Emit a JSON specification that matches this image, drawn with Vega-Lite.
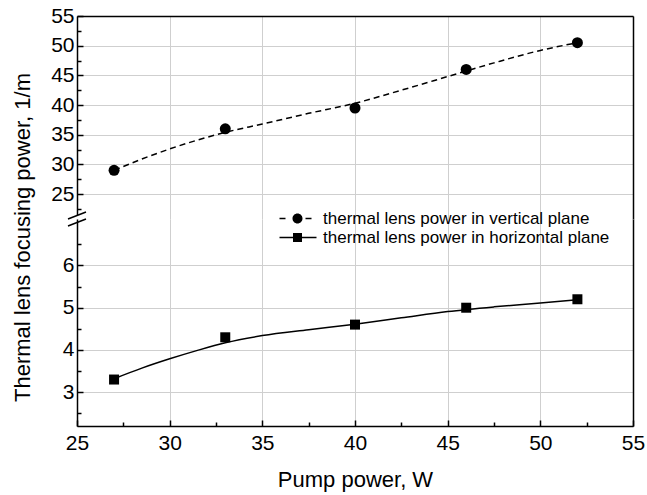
{
  "$schema": "https://vega.github.io/schema/vega-lite/v6.json",
  "padding": {"left": 10, "top": 5, "right": 2, "bottom": 5},
  "config": {
    "font": "Liberation Sans",
    "view": {"stroke": null},
    "axis": {
      "domainColor": "black", "domainWidth": 1.5,
      "tickColor": "black", "tickWidth": 1.5,
      "gridColor": "#cfcfcf", "gridWidth": 1,
      "labelFlush": false,
      "labelFont": "Liberation Sans", "labelFontSize": 21, "labelColor": "black",
      "titleFont": "Liberation Sans", "titleFontSize": 22, "titleFontWeight": "normal", "titleColor": "black"
    }
  },
  "datasets": {
    "fit": [
      {"series": "vertical", "pump": 27, "power": 29.0},
      {"series": "vertical", "pump": 28.5, "power": 30.9},
      {"series": "vertical", "pump": 30, "power": 32.6},
      {"series": "vertical", "pump": 31.5, "power": 34.1},
      {"series": "vertical", "pump": 33, "power": 35.4},
      {"series": "vertical", "pump": 35, "power": 36.8},
      {"series": "vertical", "pump": 37.5, "power": 38.6},
      {"series": "vertical", "pump": 40, "power": 40.3},
      {"series": "vertical", "pump": 42.5, "power": 42.5},
      {"series": "vertical", "pump": 45, "power": 44.8},
      {"series": "vertical", "pump": 47.5, "power": 47.1},
      {"series": "vertical", "pump": 50, "power": 49.2},
      {"series": "vertical", "pump": 52, "power": 50.5},
      {"series": "horizontal", "pump": 27, "power": 3.32},
      {"series": "horizontal", "pump": 28.5, "power": 3.57},
      {"series": "horizontal", "pump": 30, "power": 3.79},
      {"series": "horizontal", "pump": 31.5, "power": 3.99},
      {"series": "horizontal", "pump": 33, "power": 4.17},
      {"series": "horizontal", "pump": 35, "power": 4.34},
      {"series": "horizontal", "pump": 37.5, "power": 4.48},
      {"series": "horizontal", "pump": 40, "power": 4.61},
      {"series": "horizontal", "pump": 42.5, "power": 4.76},
      {"series": "horizontal", "pump": 45, "power": 4.91},
      {"series": "horizontal", "pump": 47.5, "power": 5.02},
      {"series": "horizontal", "pump": 50, "power": 5.11},
      {"series": "horizontal", "pump": 52, "power": 5.19}
    ],
    "meas": [
      {"series": "vertical", "pump": 27, "power": 29.0},
      {"series": "vertical", "pump": 33, "power": 36.0},
      {"series": "vertical", "pump": 40, "power": 39.5},
      {"series": "vertical", "pump": 46, "power": 46.0},
      {"series": "vertical", "pump": 52, "power": 50.5},
      {"series": "horizontal", "pump": 27, "power": 3.3},
      {"series": "horizontal", "pump": 33, "power": 4.3},
      {"series": "horizontal", "pump": 40, "power": 4.6},
      {"series": "horizontal", "pump": 46, "power": 5.0},
      {"series": "horizontal", "pump": 52, "power": 5.2}
    ]
  },
  "spacing": 0,
  "bounds": "flush",
  "resolve": {"scale": {"shape": "independent"}},
  "vconcat": [
    {
      "width": 556,
      "height": 203,
      "resolve": {"axis": {"x": "independent", "y": "independent"}},
      "layer": [
        {
          "data": {"name": "fit"},
          "transform": [{"filter": "datum.series === 'vertical'"}],
          "mark": {"type": "line", "color": "black", "strokeWidth": 1.5, "strokeDash": [6, 4], "interpolate": "monotone"},
          "encoding": {
            "x": {"field": "pump", "type": "quantitative", "scale": {"domain": [25, 55], "nice": false, "zero": false},
                  "axis": {"orient": "top", "values": [30, 35, 40, 45, 50], "grid": true, "ticks": false, "labels": false, "title": null, "domain": true}},
            "y": {"field": "power", "type": "quantitative", "scale": {"domain": [20.8, 55], "nice": false, "zero": false},
                  "axis": {"orient": "left", "values": [25, 30, 35, 40, 45, 50, 55], "grid": true, "tickSize": -6, "labelPadding": 9, "title": null}}
          }
        },
        {
          "data": {"name": "meas"},
          "transform": [{"filter": "datum.series === 'vertical'"}],
          "mark": {"type": "point", "shape": "circle", "filled": true, "color": "black", "size": 121, "opacity": 1},
          "encoding": {
            "x": {"field": "pump", "type": "quantitative", "axis": null},
            "y": {"field": "power", "type": "quantitative",
                  "axis": {"orient": "left", "values": [22.5, 27.5, 32.5, 37.5, 42.5, 47.5, 52.5], "grid": false, "labels": false, "domain": false, "tickSize": -4, "title": null}}
          }
        },
        {
          "data": {"name": "meas"},
          "transform": [{"filter": "datum.series === 'vertical'"}],
          "mark": {"type": "point", "opacity": 0},
          "encoding": {
            "x": {"field": "pump", "type": "quantitative", "axis": null},
            "y": {"field": "power", "type": "quantitative",
                  "axis": {"orient": "right", "grid": false, "labels": false, "ticks": false, "domain": true, "title": null}}
          }
        },
        {
          "data": {"values": [{"item": "axis break"}]},
          "mark": {"type": "point", "shape": "M-1,0L1,-0.78L1,0L-1,0.78Z", "filled": true, "color": "white", "strokeWidth": 0, "size": 324, "opacity": 1},
          "encoding": {
            "x": {"datum": 25, "type": "quantitative", "axis": null},
            "y": {"datum": 20.8, "type": "quantitative", "axis": null}
          }
        },
        {
          "data": {"values": [{"item": "axis break"}]},
          "mark": {"type": "point", "shape": "M-1,0L1,-0.78M-1,0.78L1,0", "filled": false, "color": "black", "strokeWidth": 1.5, "size": 324, "opacity": 1},
          "encoding": {
            "x": {"datum": 25, "type": "quantitative", "axis": null},
            "y": {"datum": 20.8, "type": "quantitative", "axis": null}
          }
        }
      ]
    },
    {
      "width": 556,
      "height": 207,
      "resolve": {"axis": {"x": "independent", "y": "independent"}},
      "layer": [
        {
          "data": {"name": "fit"},
          "transform": [{"filter": "datum.series === 'horizontal'"}],
          "mark": {"type": "line", "color": "black", "strokeWidth": 1.5, "interpolate": "monotone"},
          "encoding": {
            "x": {"field": "pump", "type": "quantitative", "scale": {"domain": [25, 55], "nice": false, "zero": false},
                  "axis": {"orient": "bottom", "values": [25, 30, 35, 40, 45, 50, 55], "grid": true, "tickSize": -6, "labelPadding": 12, "titlePadding": 16, "title": "Pump power, W"}},
            "y": {"field": "power", "type": "quantitative", "scale": {"domain": [2.2, 7.1], "nice": false, "zero": false},
                  "axis": {"orient": "left", "values": [3, 4, 5, 6], "grid": true, "tickSize": -6, "labelPadding": 9,
                           "title": "Thermal lens focusing power,  1/m", "titleX": -43, "titleY": 18}}
          }
        },
        {
          "data": {"name": "meas"},
          "transform": [{"filter": "datum.series === 'horizontal'"}],
          "mark": {"type": "point", "shape": "square", "filled": true, "color": "black", "size": 100, "opacity": 1},
          "encoding": {
            "x": {"field": "pump", "type": "quantitative",
                  "axis": {"orient": "bottom", "values": [27.5, 32.5, 37.5, 42.5, 47.5, 52.5], "grid": false, "labels": false, "domain": false, "tickSize": -4, "title": null}},
            "y": {"field": "power", "type": "quantitative",
                  "axis": {"orient": "left", "values": [2.5, 3.5, 4.5, 5.5, 6.5], "grid": false, "labels": false, "domain": false, "tickSize": -4, "title": null}}
          }
        },
        {
          "data": {"name": "meas"},
          "transform": [{"filter": "datum.series === 'horizontal'"}],
          "mark": {"type": "point", "filled": true, "color": "black", "opacity": 0},
          "encoding": {
            "x": {"field": "pump", "type": "quantitative", "axis": null},
            "y": {"field": "power", "type": "quantitative",
                  "axis": {"orient": "right", "grid": false, "labels": false, "ticks": false, "domain": true, "title": null}},
            "shape": {
              "field": "series", "type": "nominal",
              "scale": {
                "domain": ["vertical", "horizontal"],
                "range": [
                  "M-3.6,-0.15H-2.4V0.15H-3.6ZM1.6,-0.15H2.8V0.15H1.6ZM1,0C1,0.5523 0.5523,1 0,1C-0.5523,1 -1,0.5523 -1,0C-1,-0.5523 -0.5523,-1 0,-1C0.5523,-1 1,-0.5523 1,0Z",
                  "M-3.6,-0.15H3.8V0.15H-3.6ZM-0.9,-0.9H0.9V0.9H-0.9Z"
                ]
              },
              "legend": {
                "orient": "none", "legendX": 212, "legendY": -9,
                "title": null, "padding": 0,
                "symbolSize": 100,
                "labelFont": "Liberation Sans", "labelFontSize": 17, "labelColor": "black", "labelOffset": 17, "rowPadding": 1, "labelLimit": 0,
                "labelExpr": "datum.label == 'vertical' ? 'thermal lens power in vertical plane' : 'thermal lens power in horizontal plane'",
                "encode": {
                  "symbols": {
                    "update": {
                      "fill": {"value": "black"},
                      "opacity": {"value": 1},
                      "fillOpacity": {"value": 1}
                    }
                  }
                }
              }
            }
          }
        }
      ]
    }
  ]
}
